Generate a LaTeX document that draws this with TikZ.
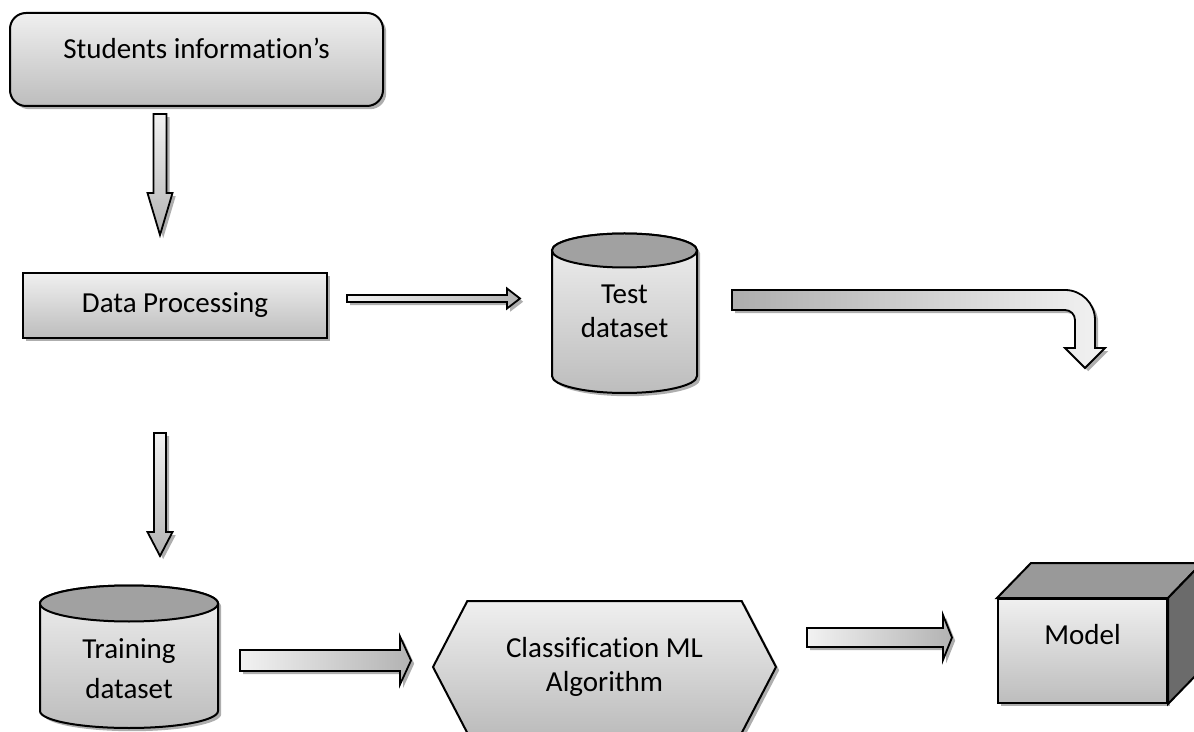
\documentclass[tikz,border=0pt]{standalone}
\usepackage{fontspec}
\setmainfont[RawFeature={-liga;-clig;-calt;-dlig}]{Carlito}
\usetikzlibrary{shapes.symbols,shadows,calc,positioning}

\tikzset{
  boxshade/.style={top color=black!6, bottom color=black!26},
  softshadow/.style={drop shadow={shadow xshift=1.6pt, shadow yshift=-1.6pt, fill=black!45, opacity=0.7}},
  procbox/.style={draw, line width=1pt, boxshade, softshadow, font=\fontsize{14.5}{17}\selectfont},
  cylbody/.style={draw, line width=1pt, boxshade, softshadow},
  cyltop/.style={draw, line width=1pt, fill=black!37},
  dbtext/.style={align=center, font=\fontsize{14.5}{17}\selectfont},
  blockarrow/.style={draw, line width=0.9pt, softshadow},
}

% right-pointing block arrow: start, tip, shaft half width, head half width, head length
\newcommand{\rblock}[5]{%
  \filldraw[blockarrow, left color=black!5, right color=black!30]
    ($(#1)+(0,-#3)$) -- ($(#2)+(-#5,-#3)$) -- ($(#2)+(-#5,-#4)$) -- (#2)
    -- ($(#2)+(-#5,#4)$) -- ($(#2)+(-#5,#3)$) -- ($(#1)+(0,#3)$) -- cycle;}
% down-pointing block arrow, same arguments
\newcommand{\dblock}[5]{%
  \filldraw[blockarrow, top color=black!5, bottom color=black!30]
    ($(#1)+(-#3,0)$) -- ($(#2)+(-#3,-#5)$) -- ($(#2)+(-#4,-#5)$) -- (#2)
    -- ($(#2)+(#4,-#5)$) -- ($(#2)+(#3,-#5)$) -- ($(#1)+(#3,0)$) -- cycle;}

\begin{document}
\begin{tikzpicture}[x=0.5pt, y=-0.5pt]
  \useasboundingbox (0,0) rectangle (1194,732);

  % Boxes
  \node[procbox, rounded corners=8pt, minimum width=186.5pt, minimum height=46.5pt,
        text height=10pt, text depth=11pt] (info) at (196.5,59.5) {Students information’s};
  \node[procbox, minimum width=152pt, minimum height=32.5pt] (proc) at (175,305.5) {Data Processing};
  \node[procbox, signal, signal to=west and east, signal pointer angle=125,
        minimum width=171.5pt, minimum height=66pt, align=center] (algo) at (604.5,667)
        {Classification ML\\Algorithm};

  % Model as a box seen from above right
  \node[procbox, minimum width=84.5pt, minimum height=52pt,
        text height=10pt, text depth=17pt] (model) at (1082.5,651) {Model};
  \filldraw[line width=1pt, fill=black!40] (model.north west) -- ++(34,-35)
    -- ($(model.north east)+(34,-35)$) -- (model.north east) -- cycle;
  \filldraw[line width=1pt, fill=black!58] (model.north east) -- ++(34,-35)
    -- ($(model.south east)+(34,-35)$) -- (model.south east) -- cycle;

  % Test dataset cylinder
  \filldraw[cylbody] (552,250.5) -- (552,376) arc[start angle=180, end angle=0, x radius=72.5, y radius=17]
    -- (697,250.5) arc[start angle=0, end angle=-180, x radius=72.5, y radius=17] -- cycle;
  \filldraw[cyltop] (624.5,250.5) ellipse[x radius=72.5, y radius=17];
  \node[dbtext] (test) at (624.5,311) {Test\\dataset};

  % Training dataset cylinder
  \filldraw[cylbody] (40,603.5) -- (40,711) arc[start angle=180, end angle=0, x radius=89, y radius=17]
    -- (218,603.5) arc[start angle=0, end angle=-180, x radius=89, y radius=18] -- cycle;
  \filldraw[cyltop] (129,603.5) ellipse[x radius=89, y radius=18];
  \node[dbtext] (train) at (129,669) {Training\\[3pt]dataset};

  % Arrows between the steps
  \coordinate (a1s) at (160,114);   \coordinate (a1e) at (160,235);
  \coordinate (a2s) at (347,298.5); \coordinate (a2e) at (520,298.5);
  \coordinate (a3s) at (160,433);   \coordinate (a3e) at (160,556);
  \coordinate (a4s) at (240,660.5); \coordinate (a4e) at (411,660.5);
  \coordinate (a5s) at (807,637.5); \coordinate (a5e) at (952,637.5);
  \coordinate (a6s) at (732,300);   \coordinate (a6e) at (1085,368);

  \dblock{a1s}{a1e}{6.5}{12.5}{42}
  \rblock{a2s}{a2e}{3.5}{10}{13}
  \dblock{a3s}{a3e}{6}{12.5}{24}
  \rblock{a4s}{a4e}{10.5}{24}{11}
  \rblock{a5s}{a5e}{9.5}{22.5}{9}

  % bent arrow out of the test set
  \filldraw[blockarrow, left color=black!32, right color=black!5]
    ($(a6s)+(0,-10)$) -- (1065,290) arc[start angle=-90, end angle=0, radius=30]
    -- (1095,348) -- (1105,348) -- (a6e) -- (1065,348) -- (1075,348) -- (1075,320)
    arc[start angle=0, end angle=-90, radius=10] -- ($(a6s)+(0,10)$) -- cycle;
\end{tikzpicture}
\end{document}
